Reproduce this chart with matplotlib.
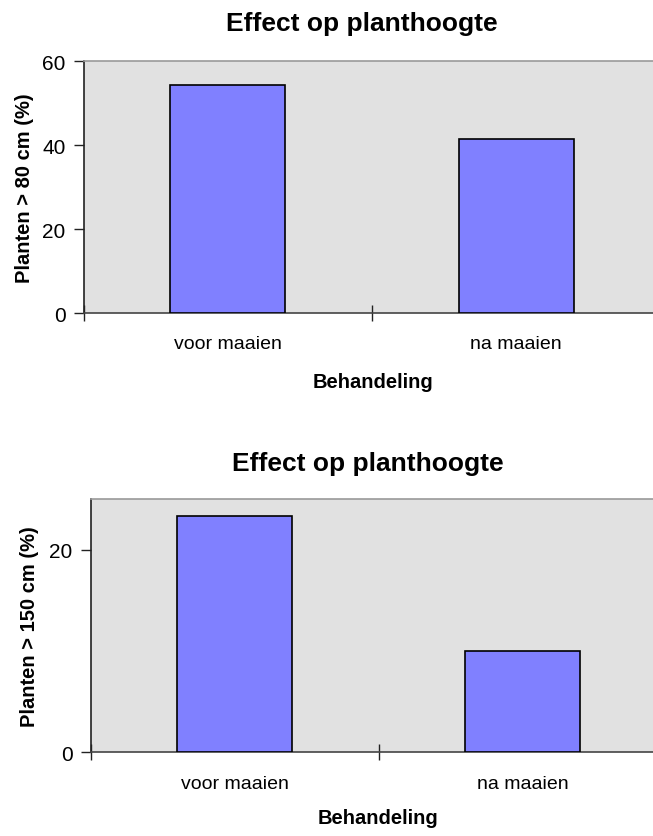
import matplotlib.pyplot as plt

plt.rcParams['font.family'] = ['Liberation Sans', 'DejaVu Sans']

categories = ['voor maaien', 'na maaien']
boven_80 = [54.4, 41.4]
boven_150 = [23.3, 10.0]
titel = 'Effect op planthoogte'
xlabel = 'Behandeling'
ylabels = ['Planten > 80 cm (%)', 'Planten > 150 cm (%)']

W, H = 653, 837
fig = plt.figure(figsize=(W / 100, H / 100), dpi=100)


def px(x, y):
    return x / W, 1 - y / H


def bar_chart(rect, waarden, ymax, yticks, ylab, title_xy, xlab_xy, ylab_x):
    ax = fig.add_axes(rect)
    ax.set_facecolor('#e1e1e1')
    x = range(len(categories))
    ax.bar(x, waarden, width=0.4, color='#8080ff', edgecolor='black', linewidth=1.2, zorder=3)
    ax.set_xlim(-0.5, 1.5)
    ax.set_ylim(0, ymax)
    ax.set_yticks(yticks)
    ax.set_xticks(list(x))
    ax.set_xticklabels(categories)
    ax.set_xticks([-0.5, 0.5, 1.5], minor=True)
    ax.tick_params(axis='x', which='major', length=0, pad=16, labelsize=14)
    ax.tick_params(axis='x', which='minor', direction='inout', length=12, width=1, color='#222')
    ax.tick_params(axis='y', direction='out', length=7, width=1, color='#222', pad=6, labelsize=15)
    ax.spines['right'].set_visible(False)
    ax.spines['top'].set_color('#999999')
    ax.spines['left'].set_color('#222222')
    ax.spines['bottom'].set_color('#444444')
    for s in ax.spines.values():
        s.set_linewidth(1.2)
    fig.text(*px(*title_xy), titel, ha='center', va='baseline', fontsize=19, fontweight='bold')
    fig.text(*px(*xlab_xy), xlabel, ha='center', va='baseline', fontsize=14.5, fontweight='bold')
    cy = (1 - rect[1] - rect[3] / 2)
    fig.text(ylab_x / W, 1 - cy, ylab, rotation=90, ha='center', va='center', fontsize=14.5, fontweight='bold')
    return ax


bar_chart([83.5 / W, 1 - 314 / H, 577 / W, 252 / H], boven_80, 60, [0, 20, 40, 60],
          ylabels[0], (362, 31), (373, 388), 24)
bar_chart([90.7 / W, 1 - 753.3 / H, 576 / W, 253.3 / H], boven_150, 25, [0, 20],
          ylabels[1], (368, 471), (378, 824), 30)

fig.savefig('out.png', dpi=100)
